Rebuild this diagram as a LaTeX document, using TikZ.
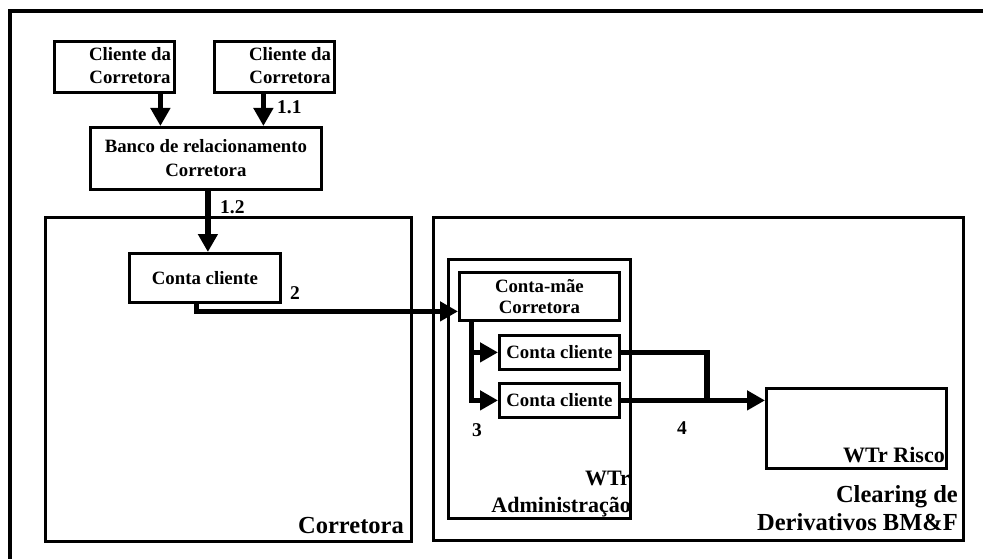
\documentclass[tikz,border=0pt]{standalone}
\usepackage{fontspec}
\setmainfont{Liberation Serif}
\usetikzlibrary{arrows.meta}

\tikzset{
  box/.style={draw, line width=2.8pt, inner sep=0pt, align=center,
    font=\fontsize{18.8}{23}\selectfont\bfseries},
  boxtext/.style={inner sep=0pt, align=center,
    font=\fontsize{18.8}{23}\selectfont\bfseries},
  region/.style={draw, line width=3pt, inner sep=0pt},
  flow/.style={line width=5.5pt, -{Triangle[length=18pt,width=19pt]}},
  link/.style={line width=5.5pt},
  num/.style={inner sep=0pt, font=\fontsize{19.5}{22}\selectfont\bfseries},
  title/.style={inner sep=0pt, font=\fontsize{22}{27}\selectfont\bfseries},
  bigtitle/.style={inner sep=0pt, font=\fontsize{24.5}{27}\selectfont\bfseries},
}

\begin{document}
\begin{tikzpicture}[x=1pt, y=-1pt]
\useasboundingbox (0,0) rectangle (983,559);

% outer frame (only the top and left sides lie on the sheet)
\draw[line width=4.5pt] (10,600) -- (10,11) -- (1000,11);

% regions
\node[region, anchor=north west, minimum width=366pt, minimum height=324pt] (corretora) at (44,216) {};
\node[region, anchor=north west, minimum width=530pt, minimum height=323pt] (clearing) at (432,216) {};
\node[region, anchor=north west, minimum width=182pt, minimum height=259pt] (admin) at (447,258) {};
\node[region, anchor=north west, minimum width=180pt, minimum height=80pt] (risco) at (765,387) {};

% client boxes
\node[box, anchor=north west, minimum width=120pt, minimum height=51pt] (c1) at (53,40) {};
\node[box, anchor=north west, minimum width=120pt, minimum height=51pt] (c2) at (213,40) {};
\node[boxtext] (c1t) at (130,66) {Cliente da\\Corretora};
\node[boxtext] (c2t) at (290,66) {Cliente da\\Corretora};
\node[box, anchor=north west, minimum width=231pt, minimum height=62pt, font=\fontsize{18.8}{24}\selectfont\bfseries] (banco) at (89,126) {Banco de relacionamento\\Corretora};

% accounts
\node[box, anchor=north west, minimum width=151pt, minimum height=49pt] (cc) at (128,252) {Conta cliente};
\node[box, anchor=north west, minimum width=160pt, minimum height=48pt, font=\fontsize{18.8}{21}\selectfont\bfseries] (mae) at (458,271) {Conta-mãe\\Corretora};
\node[box, anchor=north west, minimum width=120pt, minimum height=34pt] (ca) at (498,334) {Conta cliente};
\node[box, anchor=north west, minimum width=120pt, minimum height=34pt] (cb) at (498,382) {Conta cliente};

% region titles
\node[bigtitle, anchor=base east] (tcor) at (404,533) {Corretora};
\node[title, anchor=base east] (tadm1) at (630,485) {WTr};
\node[title, anchor=base east] (tadm2) at (631,512) {Administração};
\node[title, anchor=base east] (tris) at (945,462) {WTr Risco};
\node[bigtitle, anchor=base east] (tcl1) at (958,502) {Clearing de};
\node[bigtitle, anchor=base east] (tcl2) at (958,530) {Derivativos BM\&F};

% flows
\draw[flow] ([xshift=46pt]c1.south) -- ([xshift=46pt]c1.south |- banco.north);
\draw[flow] ([xshift=-11pt]c2.south) -- ([xshift=-11pt]c2.south |- banco.north);
\draw[flow] ([xshift=2pt]banco.south) -- ([xshift=2pt]banco.south |- cc.north);
\draw[flow] ([xshift=-8.5pt]cc.south) |- ([yshift=-15pt]mae.west);
\draw[flow] ([xshift=-68pt]mae.south) |- (ca.west);
\draw[flow] ([xshift=-68pt]mae.south) |- (cb.west);
\draw[link] (ca.east) -| ([xshift=86pt]cb.east);
\draw[flow] (cb.east) -- (cb.east -| risco.west);

% step numbers
\node[num, anchor=west] (n11) at (277,107) {1.1};
\node[num, anchor=west] (n12) at (220,207) {1.2};
\node[num] (n2) at (295,293) {2};
\node[num] (n3) at (477,430) {3};
\node[num] (n4) at (682,428) {4};
\end{tikzpicture}
\end{document}
